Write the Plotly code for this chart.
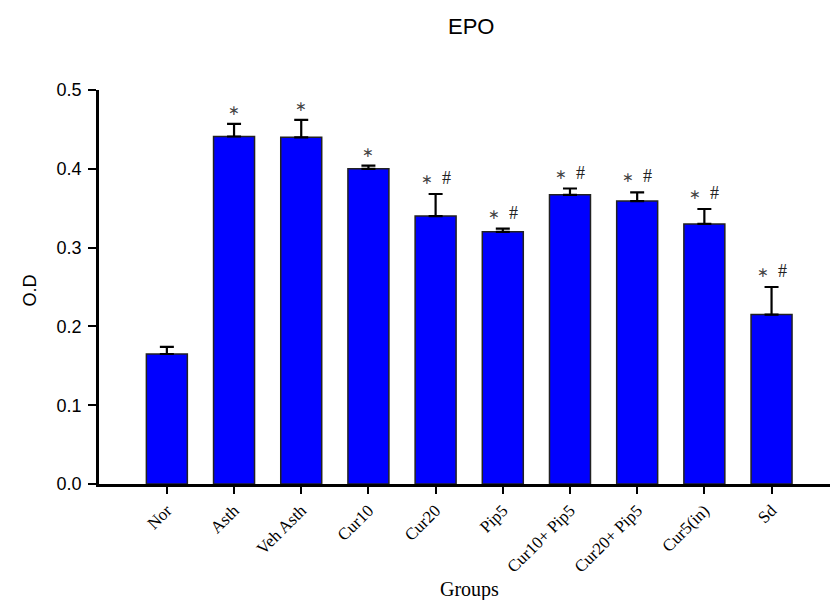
import plotly.graph_objects as go

groups = ["Nor", "Asth", "Veh Asth", "Cur10", "Cur20", "Pip5",
          "Cur10+ Pip5", "Cur20+ Pip5", "Cur5(in)", "Sd"]
od_mean = [0.165, 0.441, 0.440, 0.400, 0.340, 0.320, 0.367, 0.359, 0.330, 0.215]
od_err = [0.009, 0.016, 0.022, 0.004, 0.028, 0.004, 0.008, 0.011, 0.019, 0.035]
# significance vs. normal (*) and vs. asthma (#)
vs_normal = [False, True, True, True, True, True, True, True, True, True]
vs_asthma = [False, False, False, False, True, True, True, True, True, True]

STAR = "<span style='font-size:14px;color:#444444'>\u2217</span>"

fig = go.Figure()
fig.add_trace(go.Bar(
    x=list(range(len(groups))),
    y=od_mean,
    width=0.61,
    marker=dict(color="#0000FF", line=dict(color="#222222", width=1.5)),
    error_y=dict(type="data", array=od_err, arrayminus=[0] * len(od_err),
                 symmetric=False, color="black", thickness=2.2, width=7),
    showlegend=False,
))

# significance markers above each error bar
for i, (m, e) in enumerate(zip(od_mean, od_err)):
    parts = []
    if vs_normal[i]:
        parts.append(STAR)
    if vs_asthma[i]:
        parts.append("#")
    if parts:
        fig.add_annotation(x=i, y=m + e, text="&nbsp;&nbsp;".join(parts), showarrow=False,
                           yanchor="bottom", yshift=4,
                           font=dict(family="Liberation Serif", size=18, color="#222222"))

fig.add_annotation(text="EPO", xref="paper", yref="paper", x=0.509, y=1.16,
                   xanchor="center", yanchor="middle", showarrow=False,
                   font=dict(family="Liberation Sans", size=22, color="black"))
fig.add_annotation(text="O.D", xref="paper", yref="paper", x=-0.094, y=0.492,
                   xanchor="center", yanchor="middle", showarrow=False, textangle=-90,
                   font=dict(family="Liberation Sans", size=18, color="black"))
fig.add_annotation(text="Groups", xref="paper", yref="paper", x=0.507, y=-0.269,
                   xanchor="center", yanchor="middle", showarrow=False,
                   font=dict(family="Liberation Serif", size=20, color="black"))

fig.update_layout(
    width=831, height=600,
    margin=dict(l=99, r=1, t=90, b=116),
    plot_bgcolor="white", paper_bgcolor="white",
    xaxis=dict(
        range=[-1.01, 9.87],
        tickmode="array", tickvals=list(range(len(groups))), ticktext=groups,
        tickangle=-45, ticks="outside", ticklen=7, tickwidth=2, tickcolor="black",
        showline=True, linecolor="black", linewidth=2.5, showgrid=False, zeroline=False,
        tickfont=dict(family="Liberation Serif", size=17, color="black"),
    ),
    yaxis=dict(
        range=[0, 0.5], tickvals=[0, 0.1, 0.2, 0.3, 0.4, 0.5],
        tickformat=".1f", ticks="outside", ticklen=8, tickwidth=2, tickcolor="black",
        ticklabelstandoff=3,
        showline=True, linecolor="black", linewidth=2.5, showgrid=False, zeroline=False,
        tickfont=dict(family="Liberation Sans", size=18, color="black"),
    ),
)

fig.write_html("out.html")
